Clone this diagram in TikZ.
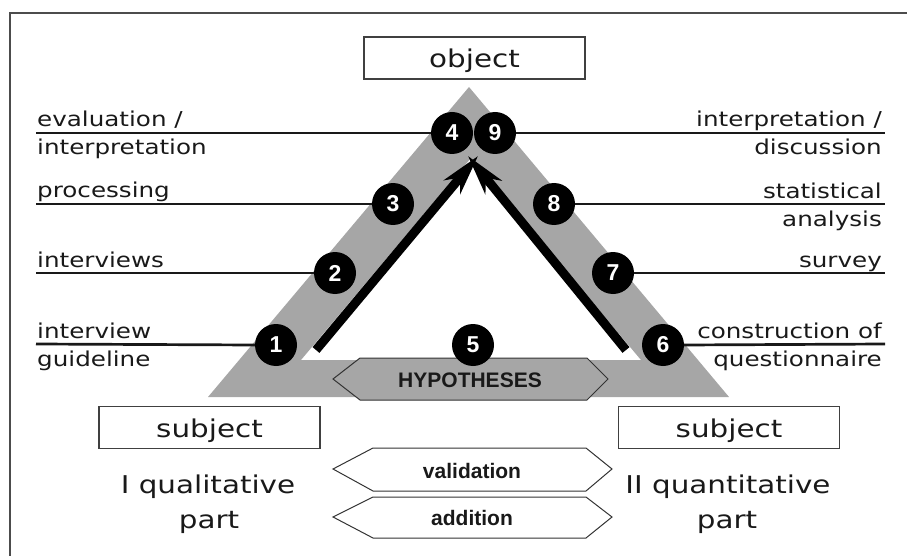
\documentclass[tikz,border=0pt]{standalone}
\usepackage{fontspec}
\setmainfont{DejaVu Sans}[FakeStretch=1.2]
\newfontfamily\arialfont{Liberation Sans}
\usetikzlibrary{arrows.meta}

\tikzset{
  band/.style={fill=black!35, draw=none},
  rule/.style={line width=2.7pt, black!90},
  num/.style={circle, fill=black, minimum size=42pt, inner sep=0pt, text=white,
    font=\arialfont\bfseries\fontsize{23}{23}\selectfont},
  side/.style={inner sep=0pt, text=black!90, font=\fontsize{20.5}{24}\selectfont},
  big/.style={inner sep=0pt, text=black!90, font=\fontsize{24.5}{29}\selectfont},
  namebox/.style={draw=black!75, line width=1.2pt, minimum width=221pt, minimum height=42pt,
    inner sep=0pt, text height=20pt, text depth=0pt, text=black!90, font=\fontsize{24.5}{29}\selectfont},
  hexa/.style={draw=black!80, line width=1pt},
  tag/.style={inner sep=0pt, text=black!90, font=\arialfont\bfseries\fontsize{21}{21}\selectfont},
  push/.style={line width=9pt, -{Stealth[length=40pt,width=21pt,inset=12pt]}},
}

\begin{document}
\begin{tikzpicture}[x=1pt,y=-1pt]
  \useasboundingbox (0,0) rectangle (907,556);
  % frame
  \draw[black!70, line width=1.5pt] (907,13) -- (10,13) -- (10,556);

  % triangle
  \fill[band, even odd rule] (208,397) -- (469,87) -- (729,397) -- cycle
    (301,360) -- (471,158) -- (641,360) -- cycle;
  \fill[band] (333,379) -- (360,358) -- (587,358) -- (608,379) -- (587,400) -- (360,400) -- cycle;
  \draw[hexa] (333,379) -- (360,358) -- (587,358) -- (608,379) -- (587,400) -- (360,400) -- cycle;
  \node[tag, anchor=base] (hyp) at (470,387) {HYPOTHESES};

  % boxes
  \node[namebox] (object) at (474.5,58) {object};
  \node[namebox] (subjqual) at (209.5,427.5) {subject};
  \node[namebox] (subjquant) at (729,427.5) {subject};

  % steps
  \node[num] (n1) at (276,345) {1};
  \node[num] (n2) at (335,273) {2};
  \node[num] (n3) at (393,204) {3};
  \node[num] (n4) at (452,133) {4};
  \node[num] (n5) at (473,345) {5};
  \node[num] (n6) at (663,345) {6};
  \node[num] (n7) at (613,273) {7};
  \node[num] (n8) at (554,204) {8};
  \node[num] (n9) at (495,133) {9};

  % rules to the labels
  \coordinate (l1) at (36,344);
  \coordinate (l2) at (36,273);
  \coordinate (l3) at (36,204);
  \coordinate (l4) at (36,133);
  \coordinate (r6) at (885,344);
  \coordinate (r7) at (885,273);
  \coordinate (r8) at (885,204);
  \coordinate (r9) at (885,133);
  \draw[rule] (l1) -- (n1.west);
  \draw[rule] (l2) -- (n2.west);
  \draw[rule] (l3) -- (n3.west);
  \draw[rule] (l4) -- (n4.west);
  \draw[rule] (n6.east) -- (r6);
  \draw[rule] (n7.east) -- (r7);
  \draw[rule] (n8.east) -- (r8);
  \draw[rule] (n9.east) -- (r9);

  % arrows
  \coordinate (qualfoot) at (316,350);
  \coordinate (quantfoot) at (626,350);
  \coordinate (meetL) at (478,156);
  \coordinate (meetR) at (468,156);
  \draw[push] (qualfoot) -- (meetL);
  \draw[push] (quantfoot) -- (meetR);

  % left labels
  \node[side, anchor=base west] (evalA) at (37,127) {evaluation /};
  \node[side, anchor=base west] (evalB) at (37,155) {interpretation};
  \node[side, anchor=base west] (proc) at (37,197) {processing};
  \node[side, anchor=base west] (intv) at (37,267) {interviews};
  \node[side, anchor=base west] (guideA) at (37,338) {interview};
  \node[side, anchor=base west] (guideB) at (37,366) {guideline};

  % right labels
  \node[side, anchor=base east] (interpA) at (882,127) {interpretation /};
  \node[side, anchor=base east] (interpB) at (882,155) {discussion};
  \node[side, anchor=base east] (statA) at (882,198) {statistical};
  \node[side, anchor=base east] (statB) at (882,226) {analysis};
  \node[side, anchor=base east] (surv) at (882,267) {survey};
  \node[side, anchor=base east] (constA) at (882,338) {construction of};
  \node[side, anchor=base east] (constB) at (882,366) {questionnaire};

  % parts
  \node[big, anchor=base] (qualA) at (208,493) {I qualitative};
  \node[big, anchor=base] (qualB) at (209,528) {part};
  \node[big, anchor=base] (quantA) at (728,493) {II quantitative};
  \node[big, anchor=base] (quantB) at (727,528) {part};

  % validation / addition
  \draw[hexa] (333,469) -- (373,448) -- (586,448) -- (612,469) -- (586,491) -- (373,491) -- cycle;
  \node[tag, anchor=base] (valid) at (472,478) {validation};
  \draw[hexa] (333,517) -- (373,497) -- (586,497) -- (612,517) -- (586,538) -- (373,538) -- cycle;
  \node[tag, anchor=base] (addit) at (472,525) {addition};
\end{tikzpicture}
\end{document}
